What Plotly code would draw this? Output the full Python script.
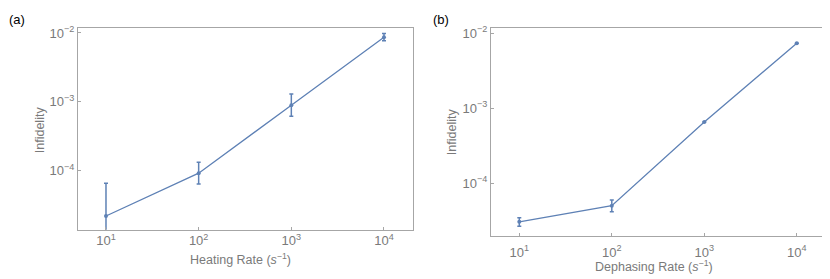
import plotly.graph_objects as go

# Panel (a): heating
heat_rate = [10, 100, 1000, 10000]
heat_infid = [2.2e-5, 9.2e-5, 8.95e-4, 8.65e-3]
heat_err_plus = [4.4e-5, 4.1e-5, 4.05e-4, 1.15e-3]
heat_err_minus = [2.19e-5, 2.8e-5, 2.75e-4, 9.5e-4]

# Panel (b): dephasing
deph_rate = [10, 100, 1000, 10000]
deph_infid = [3.08e-5, 5.05e-5, 6.56e-4, 7.3e-3]
deph_err_plus = [4.2e-6, 9.5e-6, 0, 0]
deph_err_minus = [3.8e-6, 8.5e-6, 0, 0]

x_tickvals = [10, 100, 1000, 10000]
x_ticktext = ["10<sup>1</sup>", "10<sup>2</sup>", "10<sup>3</sup>", "10<sup>4</sup>"]
y_tickvals = [1e-4, 1e-3, 1e-2]
y_ticktext = ["10<sup>−4</sup>", "10<sup>−3</sup>", "10<sup>−2</sup>"]

COLOR = "#5E81B5"
FRAME = "#A6A6A6"
FONT = "Liberation Sans, Arial, sans-serif"
TICKFONT = dict(family=FONT, size=13, color="#7A7A7A")

# page body has an 8px margin; figure is sized to fill the rest of the window
OFF = 8
W, H = 830 - OFF, 279 - OFF


def px(x):
    return (x - OFF) / W


def py(y):
    return 1 - (y - OFF) / H


fig = go.Figure()
fig.add_trace(go.Scatter(
    x=heat_rate, y=heat_infid, mode="lines+markers",
    line=dict(color=COLOR, width=1.3), marker=dict(color=COLOR, size=4),
    error_y=dict(type="data", array=heat_err_plus, arrayminus=heat_err_minus,
                 symmetric=False, color=COLOR, thickness=1.5, width=2),
    xaxis="x", yaxis="y", showlegend=False))
fig.add_trace(go.Scatter(
    x=deph_rate, y=deph_infid, mode="lines+markers",
    line=dict(color=COLOR, width=1.3), marker=dict(color=COLOR, size=4),
    error_y=dict(type="data", array=deph_err_plus, arrayminus=deph_err_minus,
                 symmetric=False, color=COLOR, thickness=1.5, width=2),
    xaxis="x2", yaxis="y2", showlegend=False))

axis_common = dict(type="log", showgrid=False, zeroline=False, showline=True,
                   linecolor=FRAME, linewidth=1, mirror=True, ticks="inside",
                   ticklen=3, tickcolor=FRAME, tickfont=TICKFONT)

fig.update_layout(
    width=W, height=H, margin=dict(l=0, r=0, t=0, b=0),
    paper_bgcolor="white", plot_bgcolor="white",
    font=dict(family=FONT),
    xaxis=dict(domain=[px(78), px(413)], range=[0.698, 4.313], anchor="y",
               tickvals=x_tickvals, ticktext=x_ticktext, ticklabelstandoff=-1,
               **axis_common),
    yaxis=dict(domain=[py(229), py(24)], range=[-4.857, -1.924], anchor="x",
               tickvals=y_tickvals, ticktext=y_ticktext, **axis_common),
    xaxis2=dict(domain=[px(491), px(822.7)], range=[0.694, 4.28], anchor="y2",
                tickvals=x_tickvals, ticktext=x_ticktext, ticklabelstandoff=4,
                **axis_common),
    yaxis2=dict(domain=[py(235.3), py(24)], range=[-4.699, -1.93], anchor="x2",
                tickvals=y_tickvals, ticktext=y_ticktext, **axis_common),
)

lab = dict(family=FONT, size=12.5, color="#7A7A7A")
annots = [
    dict(text="(a)", x=px(7), y=py(16), xanchor="left", yanchor="middle",
         font=dict(family=FONT, size=13, color="black")),
    dict(text="(b)", x=px(431), y=py(16), xanchor="left", yanchor="middle",
         font=dict(family=FONT, size=13, color="black")),
    dict(text="Heating Rate (<i>s</i><sup>−1</sup>)", x=px(240), y=py(259),
         xanchor="center", yanchor="middle", font=lab),
    dict(text="Dephasing Rate (<i>s</i><sup>−1</sup>)", x=px(654), y=py(266),
         xanchor="center", yanchor="middle", font=lab),
    dict(text="Infidelity", x=px(40), y=py(128), textangle=-90,
         xanchor="center", yanchor="middle", font=lab),
    dict(text="Infidelity", x=px(452), y=py(130), textangle=-90,
         xanchor="center", yanchor="middle", font=lab),
]
for a in annots:
    a.update(xref="paper", yref="paper", showarrow=False)
fig.update_layout(annotations=annots)

fig.write_html("out.html")
